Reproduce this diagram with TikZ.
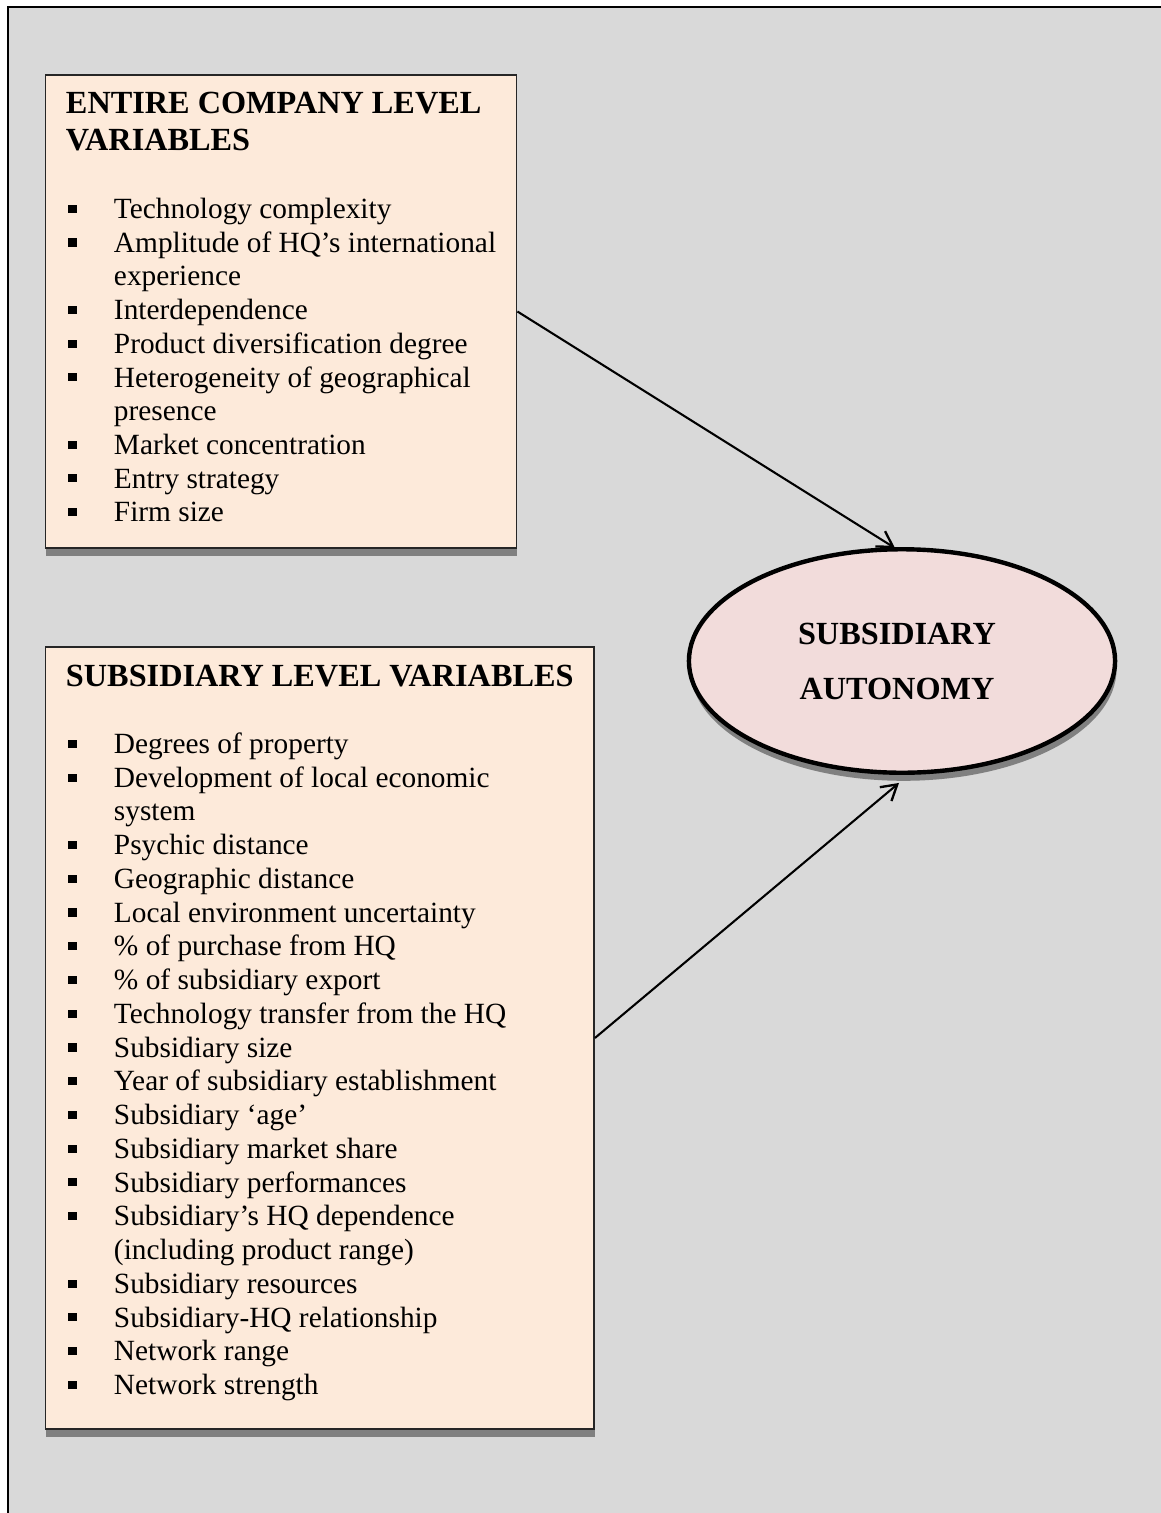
\documentclass[tikz,border=0pt]{standalone}
\usepackage{fontspec}
\setmainfont{Liberation Serif}
\usetikzlibrary{arrows.meta,calc,fit,shapes.geometric,shadows}
\definecolor{panelgray}{HTML}{D9D9D9}
\definecolor{boxpeach}{HTML}{FDEADA}
\definecolor{ellpink}{HTML}{F2DCDB}
\definecolor{shadowgray}{HTML}{808080}
\begin{document}
\begin{tikzpicture}[x=0.409pt,y=-0.409pt,
  varbox/.style={draw=black!85, line width=0.75pt, fill=boxpeach, inner sep=0pt,
    drop shadow={shadow xshift=0.4pt, shadow yshift=-3.3pt, opacity=1, fill=shadowgray}},
  outcome/.style={ellipse, draw=black, line width=1.8pt, fill=ellpink, inner sep=0pt,
    minimum width=174.3pt, minimum height=91.4pt,
    drop shadow={shadow xshift=0.6pt, shadow yshift=-3.3pt, opacity=1, fill=shadowgray}},
  ttl/.style={anchor=base west, inner sep=0pt, font=\fontsize{13.2}{15}\selectfont\bfseries},
  ovaltxt/.style={anchor=base, inner sep=0pt, font=\fontsize{13.2}{15}\selectfont\bfseries},
  itemtxt/.style={anchor=base west, inner sep=0pt, font=\fontsize{12}{13.8}\selectfont},
  sqbullet/.style={rectangle, fill=black, inner sep=0pt, minimum width=3.6pt, minimum height=3.3pt},
  conn/.style={line width=0.85pt, -{Straight Barb[length=6.2pt, width=7.4pt, line width=0.95pt]}}
]
\useasboundingbox (0,0) rectangle (1161,1513);
\clip (0,0) rectangle (1161,1513);
\fill[white] (0,0) rectangle (1161,1513);

% grey panel whose right and bottom edges run off the page
\draw[line width=0.9pt, fill=panelgray] (8,7) rectangle (1200,1560);

% the two variable boxes
\node[varbox, fit={(45.5,75) (516.5,548)}] (b1) {};
\node[varbox, fit={(45.5,647) (594,1429)}] (b2) {};

% outcome oval
\node[outcome] (ell) at (902,661) {};
\node[ovaltxt] (o1) at (897,644.5) {SUBSIDIARY};
\node[ovaltxt] (o2) at (897,699.5) {AUTONOMY};

% box 1 contents
\node[ttl] (h1a) at (65.5,113.5) {ENTIRE COMPANY LEVEL};
\node[ttl] (h1b) at (65.5,150.5) {VARIABLES};
\foreach \k/\txt [count=\i from 0] in {
  1/Technology complexity,
  1/Amplitude of HQ’s international,
  0/experience,
  1/Interdependence,
  1/Product diversification degree,
  1/Heterogeneity of geographical,
  0/presence,
  1/Market concentration,
  1/Entry strategy,
  1/Firm size}{
  \node[itemtxt] (ea-\i) at (113.5,{218.5+33.7*\i}) {\txt};
  \ifnum\k=1 \node[sqbullet] (ba-\i) at (72.2,{218.5+33.7*\i-9.7}) {};\fi
}

% box 2 contents
\node[ttl] (h2) at (65.5,686.5) {SUBSIDIARY LEVEL VARIABLES};
\foreach \k/\txt [count=\i from 0] in {
  1/Degrees of property,
  1/Development of local economic,
  0/system,
  1/Psychic distance,
  1/Geographic distance,
  1/Local environment uncertainty,
  1/\% of purchase from HQ,
  1/\% of subsidiary export,
  1/Technology transfer from the HQ,
  1/Subsidiary size,
  1/Year of subsidiary establishment,
  1/Subsidiary ‘age’,
  1/Subsidiary market share,
  1/Subsidiary performances,
  1/Subsidiary’s HQ dependence,
  0/(including product range),
  1/Subsidiary resources,
  1/Subsidiary-HQ relationship,
  1/Network range,
  1/Network strength}{
  \node[itemtxt] (eb-\i) at (113.5,{753.5+33.74*\i}) {\txt};
  \ifnum\k=1 \node[sqbullet] (bb-\i) at (72.2,{753.5+33.74*\i-9.7}) {};\fi
}

% connectors into the oval
\draw[conn] (b1.east) -- ($(ell.north)+(-7,1)$);
\draw[conn] (b2.east) -- ($(ell.south)+(-3,8)$);
\end{tikzpicture}
\end{document}
